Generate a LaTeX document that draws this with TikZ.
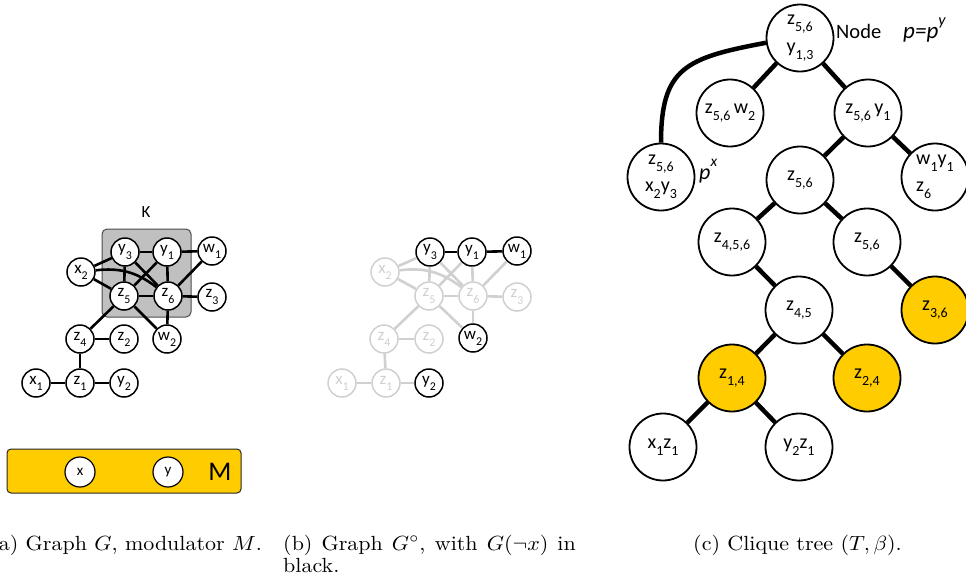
\documentclass[tikz,border=0pt]{standalone}
\usepackage{fontspec}
\usepackage{graphicx}
\newfontfamily\carlito{Carlito}
\newcommand\sbx[1]{\raisebox{-0.36em}{\scalebox{0.7}{#1}}}
\newcommand\spx[1]{\raisebox{0.55em}{\scalebox{0.7}{#1}}}
\newcommand\captext[1]{\scalebox{2.2}[2.05]{\fontsize{10}{12}\selectfont #1}}
\definecolor{myyellow}{RGB}{255,204,0}
\definecolor{lgray}{RGB}{208,208,208}
\definecolor{kfill}{RGB}{192,192,192}
\begin{document}
\begin{tikzpicture}[x=1pt,y=-1pt,
  gn/.style={circle, draw=black, line width=1.5pt, fill=white, minimum size=28pt, inner sep=0pt,
    font=\carlito\fontsize{17}{18}\selectfont},
  gg/.style={gn, draw=lgray, text=lgray},
  ge/.style={line width=2.6pt},
  gge/.style={line width=2.6pt, draw=lgray},
  tn/.style={circle, draw=black, line width=1.8pt, fill=white, minimum size=67pt, inner sep=0pt,
    font=\carlito\fontsize{20}{22}\selectfont},
  yel/.style={fill=myyellow},
  te/.style={line width=4.5pt},
  mn/.style={circle, draw=black, line width=1.2pt, fill=white, minimum size=30pt, inner sep=0pt,
    font=\carlito\fontsize{15}{16}\selectfont},
  captxt/.style={anchor=base west, inner sep=0pt}
]
\useasboundingbox (0,0) rectangle (966,584);

% ---------------- (a) ----------------
\node[draw=black!70, line width=1pt, fill=kfill, rounded corners=5pt, minimum width=89pt, minimum height=88pt, inner sep=0pt] (K) at (146.5,273) {};
\node[font=\carlito\fontsize{17}{18}\selectfont, inner sep=0pt] (Klab) at (146,212) {K};

\node[gn] (y3) at (125,252) {y\sbx{3}};
\node[gn] (y1) at (167,252) {y\sbx{1}};
\node[gn] (w1) at (212,251) {w\sbx{1}};
\node[gn] (x2) at (81,272) {x\sbx{2}};
\node[gn] (z5) at (124,296) {z\sbx{5}};
\node[gn] (z6) at (168,296) {z\sbx{6}};
\node[gn] (z3) at (212,297) {z\sbx{3}};
\node[gn] (w2) at (167,339) {w\sbx{2}};
\node[gn] (z4) at (80,339) {z\sbx{4}};
\node[gn] (z2) at (124,339) {z\sbx{2}};
\node[gn] (x1) at (36,383) {x\sbx{1}};
\node[gn] (z1) at (80,383) {z\sbx{1}};
\node[gn] (y2) at (124,383) {y\sbx{2}};

\draw[ge] (y3) -- (y1);
\draw[ge] (y1) -- (w1);
\draw[ge] (x2) -- (y3);
\draw[ge] (x2) -- (z5);
\draw[ge] (x2) to[bend left=22] (z6);
\draw[ge] (y3) -- (z5);
\draw[ge] (y3) -- (z6);
\draw[ge] (y1) -- (z5);
\draw[ge] (y1) -- (z6);
\draw[ge] (w1) -- (z6);
\draw[ge] (z5) -- (z6);
\draw[ge] (z6) -- (z3);
\draw[ge] (z5) -- (w2);
\draw[ge] (z6) -- (w2);
\draw[ge] (z5) -- (z4);
\draw[ge] (z4) -- (z2);
\draw[ge] (z4) -- (z1);
\draw[ge] (x1) -- (z1);
\draw[ge] (z1) -- (y2);

% modulator
\node[draw=black!85, line width=1pt, fill=myyellow, rounded corners=4pt, minimum width=234pt, minimum height=44pt, inner sep=0pt] (M) at (124,471) {};
\node[mn] (mx) at (80,472) {x};
\node[mn] (my) at (168,472) {y};
\node[font=\carlito\fontsize{27}{30}\selectfont, inner sep=0pt] (Mlab) at (220,472) {M};

% ---------------- (b) ----------------
\begin{scope}[xshift=305pt]
\node[gn] (by3) at (125,252) {y\sbx{3}};
\node[gn] (by1) at (167,252) {y\sbx{1}};
\node[gn] (bw1) at (212,251) {w\sbx{1}};
\node[gg] (bx2) at (80,272) {x\sbx{2}};
\node[gg] (bz5) at (124,296) {z\sbx{5}};
\node[gg] (bz6) at (168,296) {z\sbx{6}};
\node[gg] (bz3) at (212,297) {z\sbx{3}};
\node[gn] (bw2) at (168,338) {w\sbx{2}};
\node[gg] (bz4) at (79,339) {z\sbx{4}};
\node[gg] (bz2) at (124,339) {z\sbx{2}};
\node[gg] (bx1) at (37,383) {x\sbx{1}};
\node[gg] (bz1) at (81,383) {z\sbx{1}};
\node[gn] (by2) at (124,383) {y\sbx{2}};

\draw[ge] (by3) -- (by1);
\draw[ge] (by1) -- (bw1);
\draw[gge] (bx2) -- (by3);
\draw[gge] (bx2) -- (bz5);
\draw[gge] (bx2) to[bend left=22] (bz6);
\draw[gge] (by3) -- (bz5);
\draw[gge] (by3) -- (bz6);
\draw[gge] (by1) -- (bz5);
\draw[gge] (by1) -- (bz6);
\draw[gge] (bw1) -- (bz6);
\draw[gge] (bz5) -- (bz6);
\draw[gge] (bz6) -- (bz3);
\draw[gge] (bz5) -- (bw2);
\draw[gge] (bz6) -- (bw2);
\draw[gge] (bz5) -- (bz4);
\draw[gge] (bz4) -- (bz2);
\draw[gge] (bz4) -- (bz1);
\draw[gge] (bx1) -- (bz1);
\draw[gge] (bz1) -- (by2);
\end{scope}

% ---------------- (c) ----------------
\node[tn, align=center] (root) at (800,38) {z\sbx{5,6}\\[6pt]y\sbx{1,3}};
\node[tn] (A) at (730,113) {z\sbx{5,6}\,w\sbx{2}};
\node[tn] (B) at (868,113) {z\sbx{5,6}\,y\sbx{1}};
\node[tn, align=center] (px) at (661,177) {z\sbx{5,6}\\[5pt]x\sbx{2}y\sbx{3}};
\node[tn] (C) at (800,180) {z\sbx{5,6}};
\node[tn, align=left] (wn) at (935,177) {w\sbx{1}y\sbx{1}\\[5pt]z\sbx{6}};
\node[tn] (D) at (732,242) {z\sbx{4,5,6}};
\node[tn] (E) at (867,242) {z\sbx{5,6}};
\node[tn] (F) at (799,310) {z\sbx{4,5}};
\node[tn, yel] (G) at (935,310) {z\sbx{3,6}};
\node[tn, yel] (H) at (732,378) {z\sbx{1,4}};
\node[tn, yel] (I) at (867,378) {z\sbx{2,4}};
\node[tn] (J) at (663,447) {x\sbx{1}z\sbx{1}};
\node[tn] (L) at (799,447) {y\sbx{2}z\sbx{1}};

\draw[te] (root) -- (A);
\draw[te] (root) -- (B);
\draw[te] (B) -- (C);
\draw[te] (B) -- (wn);
\draw[te] (C) -- (D);
\draw[te] (C) -- (E);
\draw[te] (D) -- (F);
\draw[te] (E) -- (G);
\draw[te] (F) -- (H);
\draw[te] (F) -- (I);
\draw[te] (H) -- (J);
\draw[te] (H) -- (L);
\draw[te] (root.188) .. controls +(-80,15) and +(0,-75) .. (px.north);

\node[anchor=base west, inner sep=0pt, font=\carlito\fontsize{20.5}{22}\selectfont] (nodelab) at (836,38) {Node\hspace{22pt}{\fontsize{23}{24}\selectfont\itshape p=p\spx{y}}};
\node[anchor=base west, inner sep=0pt, font=\carlito\fontsize{22}{24}\selectfont] (pxlab) at (699,179) {\itshape p\spx{x}};

% ---------------- captions ----------------
\node[captxt] (capa) at (-10,550) {\captext{(a) Graph $G$, modulator $M$.}};
\node[captxt] (capb1) at (283,550) {\captext{\makebox[133pt][s]{(b) Graph $G^\circ$, with $G(\neg x)$ in}}};
\node[captxt] (capb2) at (283,572) {\captext{black.}};
\node[captxt] (capc) at (693,550) {\captext{(c) Clique tree $(T,\beta)$.}};
\end{tikzpicture}
\end{document}
